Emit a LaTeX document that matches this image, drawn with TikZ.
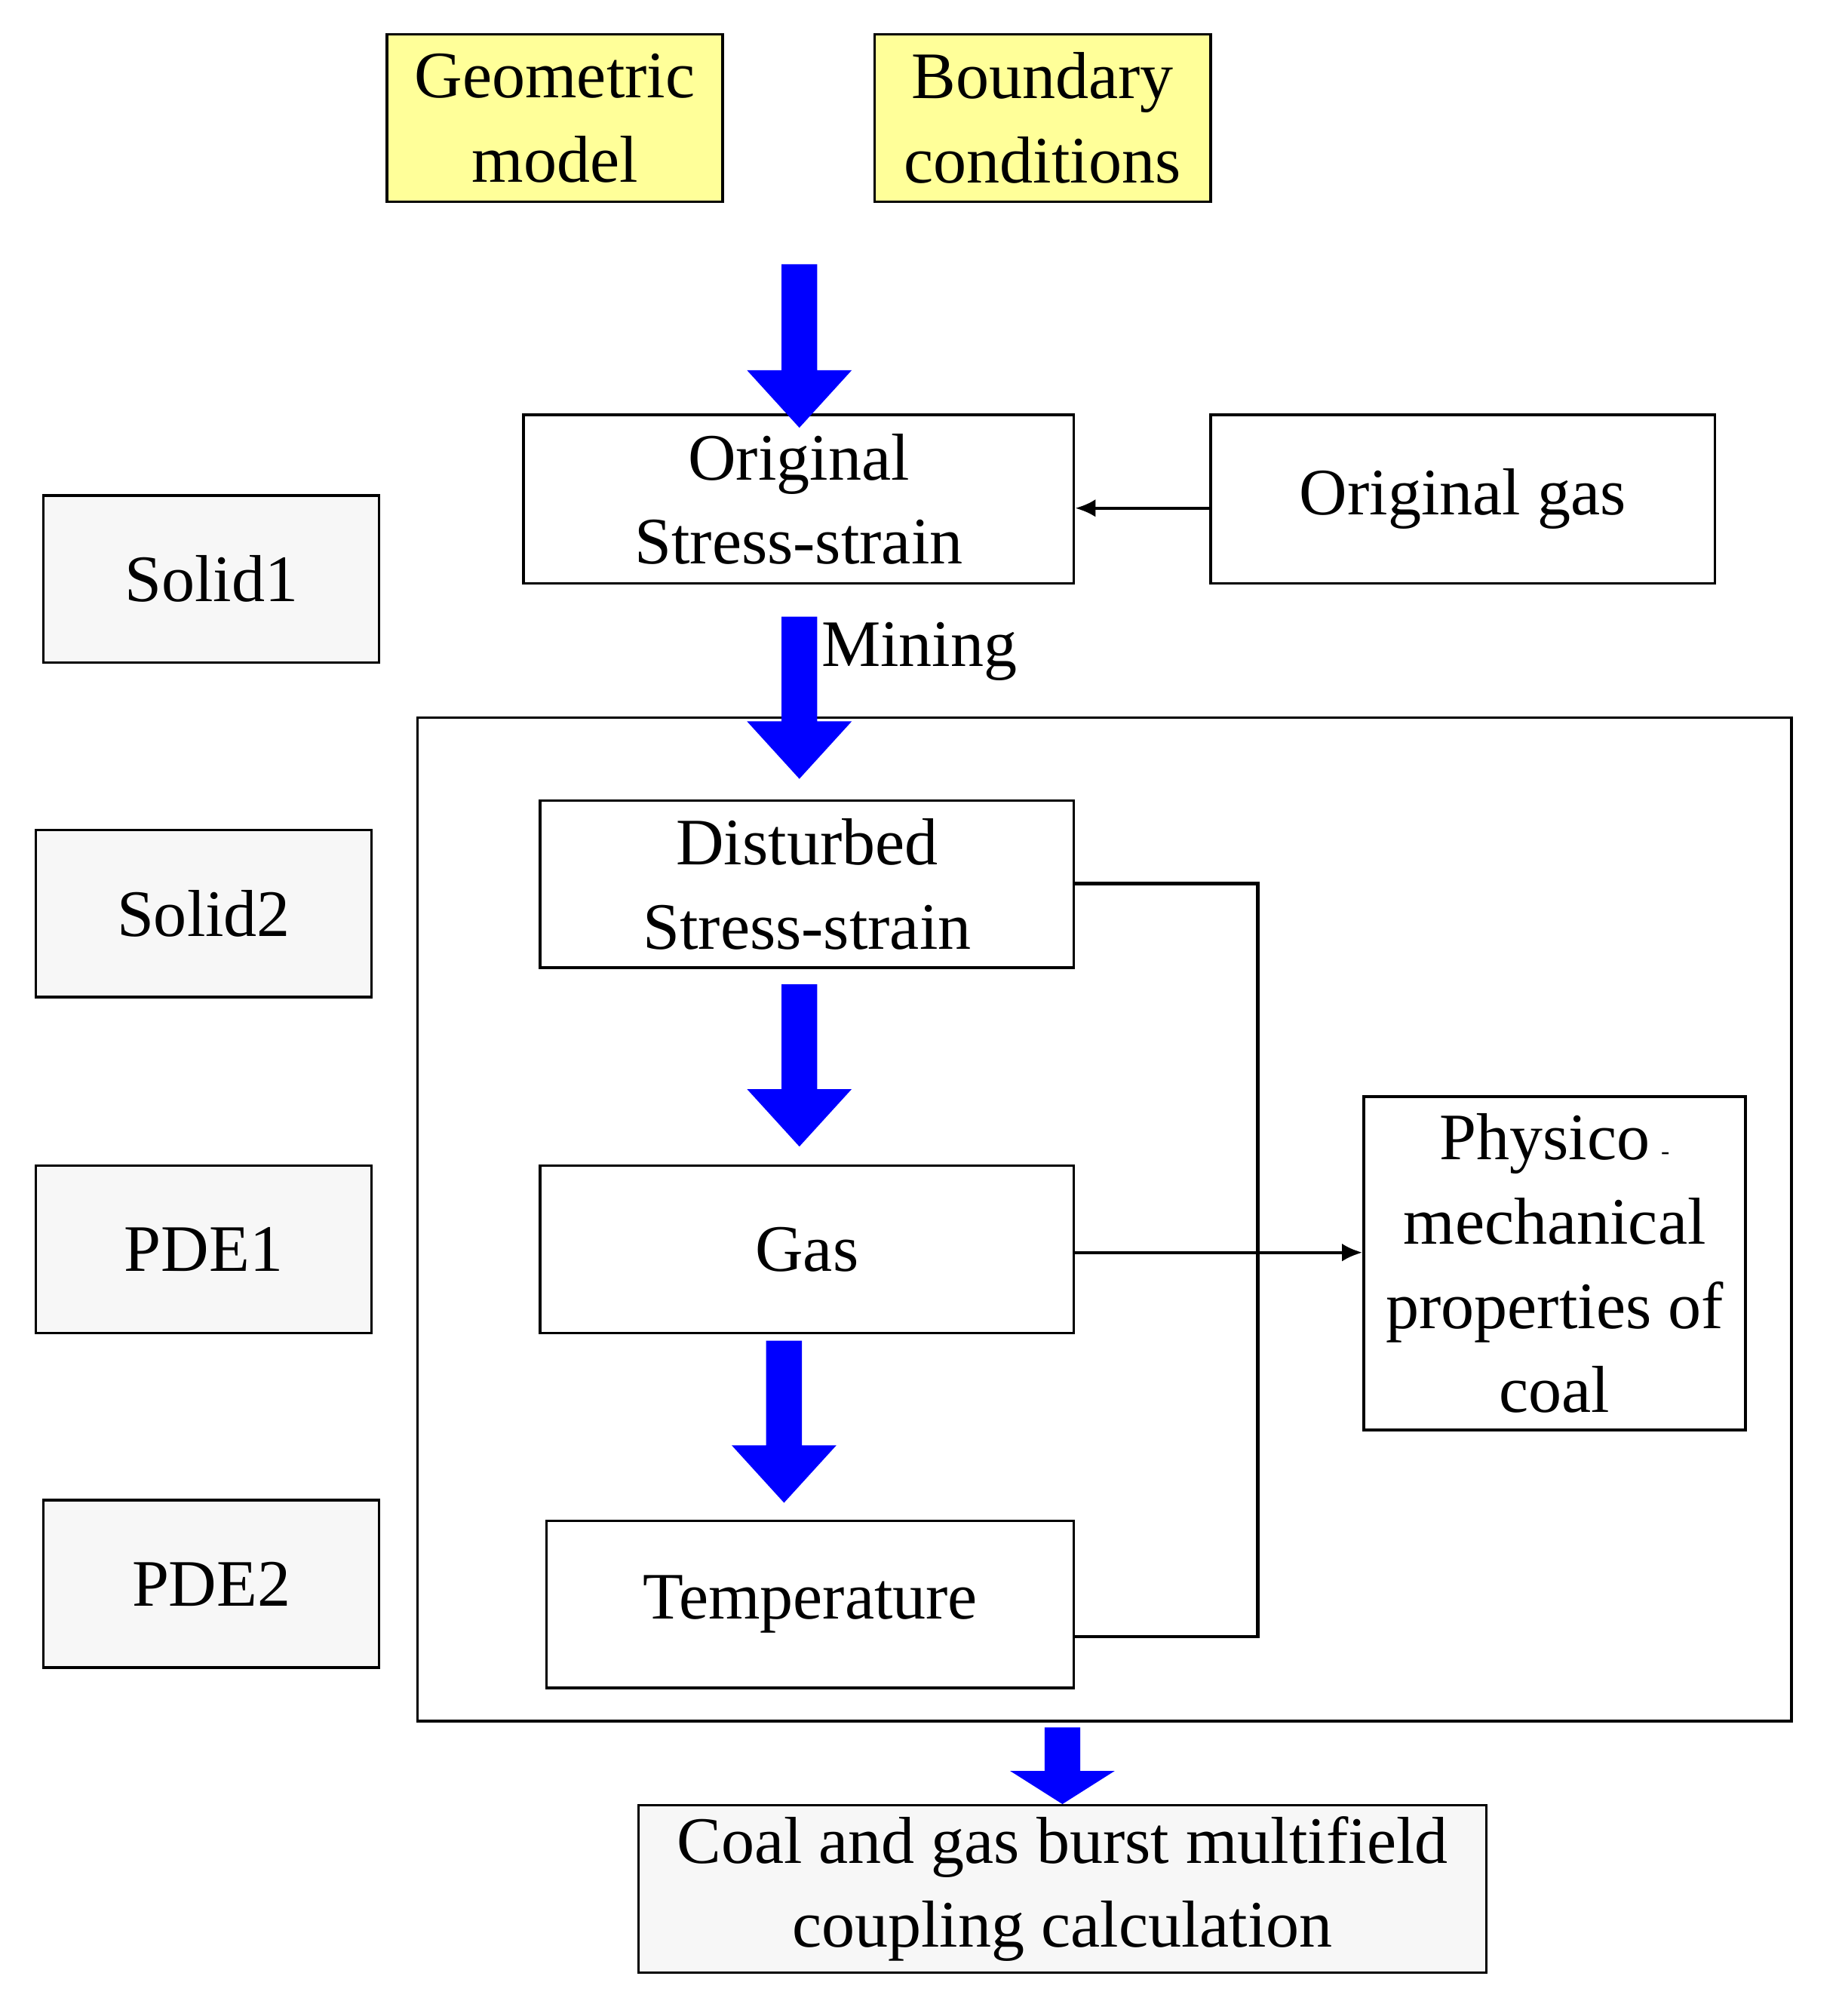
\documentclass[tikz,border=0pt]{standalone}
\usepackage{fontspec}
\usetikzlibrary{arrows.meta}
\setmainfont{Liberation Serif}
\begin{document}
\begin{tikzpicture}[x=0.5pt,y=-0.5pt,
  box/.style={draw,line width=1pt,inner sep=0pt,align=center,font=\fontsize{26}{33}\selectfont},
  yel/.style={box,fill={rgb,255:red,255;green,255;blue,153}},
  gry/.style={box,fill={rgb,255:red,247;green,247;blue,247}},
  conn/.style={line width=1.3pt},
  arr/.style={conn,-{Latex[length=8pt,width=7pt]}}]
\useasboundingbox (0,0) rectangle (1440,1579);
\newcommand{\bigarrow}[4]{% xcenter, ytop, yshaftend, ytip
  \fill[blue] (#1-14,#2) -- (#1+14,#2) -- (#1+14,#3) -- (#1+41,#3) -- (#1,#4) -- (#1-41,#3) -- (#1-14,#3) -- cycle;}
\def\bx#1#2#3#4#5#6#7{\node[#1,minimum width=#4*0.5pt-#2*0.5pt,minimum height=#5*0.5pt-#3*0.5pt] (#6) at ({(#2+#4)/2},{(#3+#5)/2}) {#7};}
\bx{yel}{303}{27}{566}{158}{geo}{Geometric\\model}
\bx{yel}{685}{27}{948}{158}{bc}{Boundary\\conditions}
\bx{box}{410}{325}{841}{457}{oss}{Original\\Stress-strain}
\bx{box}{948}{325}{1343}{457}{og}{Original gas}
\bx{gry}{34}{388}{297}{519}{s1}{Solid1}
\draw[line width=1pt] (327,562) rectangle (1403,1348);
\bx{box}{423}{627}{841}{758}{dss}{Disturbed\\Stress-strain}
\bx{gry}{28}{650}{291}{781}{s2}{Solid2}
\bx{box}{423}{913}{841}{1044}{gas}{Gas}
\bx{gry}{28}{913}{291}{1044}{p1}{PDE1}
\bx{box}{428}{1191}{841}{1322}{temp}{Temperature}
\bx{gry}{34}{1175}{297}{1306}{p2}{PDE2}
\bx{box}{1068}{859}{1367}{1120}{phy}{Physico\,{\fontsize{10}{10}\selectfont -}\\mechanical\\properties of\\coal}
\bx{gry}{500}{1414}{1164}{1545}{coal}{Coal and gas burst multifield\\coupling calculation}
\node[font=\fontsize{26}{33}\selectfont,anchor=west,inner sep=0pt] (mining) at (643,510) {Mining};
\bigarrow{626}{207}{290}{335}
\bigarrow{626}{483}{565}{610}
\bigarrow{626}{771}{853}{898}
\bigarrow{614}{1050}{1132}{1177}
\bigarrow{832}{1353}{1387}{1413}
\draw[arr] (og.west |- 0,398) -- (oss.east |- 0,398);
\coordinate (c1) at (985,692);
\coordinate (c2) at (985,1282);
\draw[conn] (dss.east |- c1) -- (c1) -- (c2) -- (temp.east |- c2);
\draw[arr] (gas.east |- 0,981) -- (phy.west |- 0,981);
\end{tikzpicture}
\end{document}
